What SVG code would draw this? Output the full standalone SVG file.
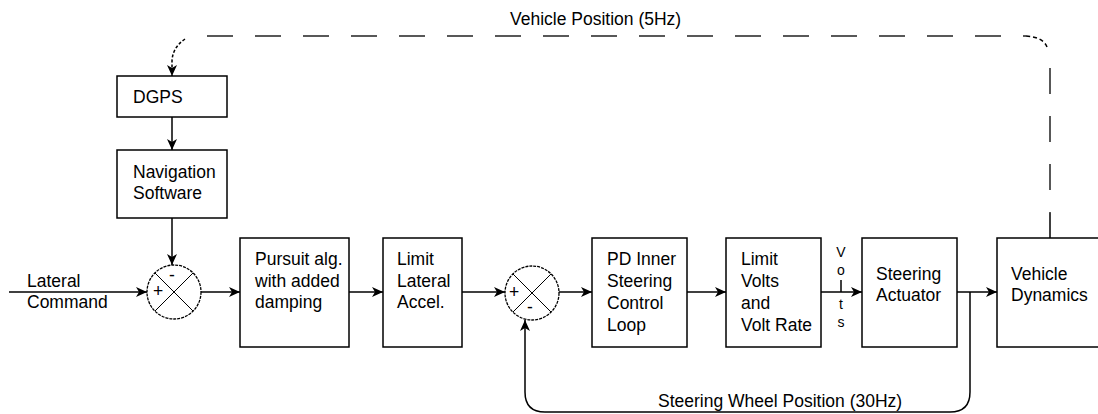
<svg xmlns="http://www.w3.org/2000/svg" width="1098" height="414" viewBox="0 0 1098 414">
<defs>
<style>
.box{fill:#fff;stroke:#000;stroke-width:1.5}
.t{font-family:"Liberation Sans",Arial,sans-serif;font-size:17.5px;fill:#000}
.v{font-family:"Liberation Sans",Arial,sans-serif;font-size:14px;fill:#000}
.c{fill:none;stroke:#000;stroke-width:1.5}
.d{fill:none;stroke:#222;stroke-width:1.5;stroke-dasharray:26 22}
.sum{fill:#fff;stroke:#000;stroke-width:1.3;stroke-dasharray:3 1}
.x{stroke:#000;stroke-width:1}
</style>
<marker id="ah" markerWidth="12" markerHeight="12" refX="11" refY="6" orient="auto" markerUnits="userSpaceOnUse">
<path d="M0,1 L11,6 L0,11 L3,6 z" fill="#000"/>
</marker>
</defs>
<rect width="1098" height="414" fill="#fff"/>

<g id="connectors">
<path class="d" d="M207,36 L1026,36"/>
<path class="c" d="M1026,36 Q1043,37 1047,47" stroke-dasharray="4 3"/>
<path class="d" d="M1050,68 L1050,213"/>
<path class="c" d="M1050,213 L1050,238"/>
<path class="c" d="M185,39 Q172,48 172,62 L172,76" marker-end="url(#ah)" stroke-dasharray="3 2"/>
<path class="c" d="M172,117 L172,150" marker-end="url(#ah)"/>
<path class="c" d="M172,218 L172,265" marker-end="url(#ah)"/>
<path class="c" d="M9,292 L147,292" marker-end="url(#ah)"/>
<path class="c" d="M201,292 L240,292" marker-end="url(#ah)"/>
<path class="c" d="M349,292 L383,292" marker-end="url(#ah)"/>
<path class="c" d="M462,292 L505,292" marker-end="url(#ah)"/>
<path class="c" d="M558,292 L592,292" marker-end="url(#ah)"/>
<path class="c" d="M687,292 L726,292" marker-end="url(#ah)"/>
<path class="c" d="M821,292 L862,292" marker-end="url(#ah)"/>
<path class="c" d="M957,292 L997,292" marker-end="url(#ah)"/>
<path class="c" d="M841,280 L841,292"/>
<path class="c" d="M970,292 L970,392 Q970,412 950,412 L545,412 Q525,412 525,392 L525,320" marker-end="url(#ah)"/>
<text class="t" x="510" y="25">Vehicle Position (5Hz)</text>
<text class="t" x="658" y="407">Steering Wheel Position (30Hz)</text>
<text class="v" x="841" y="257" text-anchor="middle">V</text>
<text class="v" x="841" y="275" text-anchor="middle">o</text>
<text class="v" x="841" y="309" text-anchor="middle">t</text>
<text class="v" x="841" y="327" text-anchor="middle">s</text>
<text class="t" x="27" y="287">Lateral</text>
<text class="t" x="27" y="308">Command</text>
</g>

<g id="dgps">
<rect class="box" x="117" y="76" width="110" height="41"/>
<text class="t" x="133" y="103">DGPS</text>
</g>
<g id="nav">
<rect class="box" x="117" y="150" width="110" height="68"/>
<text class="t" x="133" y="178">Navigation</text>
<text class="t" x="133" y="199">Software</text>
</g>
<g id="sum1">
<circle class="sum" cx="174" cy="292" r="27"/>
<line class="x" x1="155" y1="273" x2="193" y2="311"/>
<line class="x" x1="193" y1="273" x2="155" y2="311"/>
<text class="t" x="172" y="281" text-anchor="middle" font-size="14">-</text>
<text class="t" x="158" y="297" text-anchor="middle" font-size="14">+</text>
</g>
<g id="pursuit">
<rect class="box" x="240" y="238" width="109" height="109"/>
<text class="t" x="255" y="265">Pursuit alg.</text>
<text class="t" x="255" y="287">with added</text>
<text class="t" x="255" y="308">damping</text>
</g>
<g id="limitlat">
<rect class="box" x="383" y="238" width="79" height="109"/>
<text class="t" x="397" y="265">Limit</text>
<text class="t" x="397" y="287">Lateral</text>
<text class="t" x="397" y="308">Accel.</text>
</g>
<g id="sum2">
<circle class="sum" cx="532" cy="293" r="27"/>
<line class="x" x1="513" y1="274" x2="551" y2="312"/>
<line class="x" x1="551" y1="274" x2="513" y2="312"/>
<text class="t" x="514" y="298" text-anchor="middle" font-size="14">+</text>
<text class="t" x="530" y="313" text-anchor="middle" font-size="14">-</text>
</g>
<g id="pd">
<rect class="box" x="592" y="238" width="95" height="109"/>
<text class="t" x="607" y="265">PD Inner</text>
<text class="t" x="607" y="287">Steering</text>
<text class="t" x="607" y="309">Control</text>
<text class="t" x="607" y="331">Loop</text>
</g>
<g id="limitvolts">
<rect class="box" x="726" y="238" width="95" height="109"/>
<text class="t" x="741" y="265">Limit</text>
<text class="t" x="741" y="287">Volts</text>
<text class="t" x="741" y="309">and</text>
<text class="t" x="741" y="331">Volt Rate</text>
</g>
<g id="actuator">
<rect class="box" x="862" y="238" width="95" height="109"/>
<text class="t" x="876" y="280">Steering</text>
<text class="t" x="876" y="301">Actuator</text>
</g>
<g id="vehicle">
<rect class="box" x="997" y="238" width="110" height="109"/>
<text class="t" x="1011" y="280">Vehicle</text>
<text class="t" x="1011" y="301">Dynamics</text>
</g>
</svg>
